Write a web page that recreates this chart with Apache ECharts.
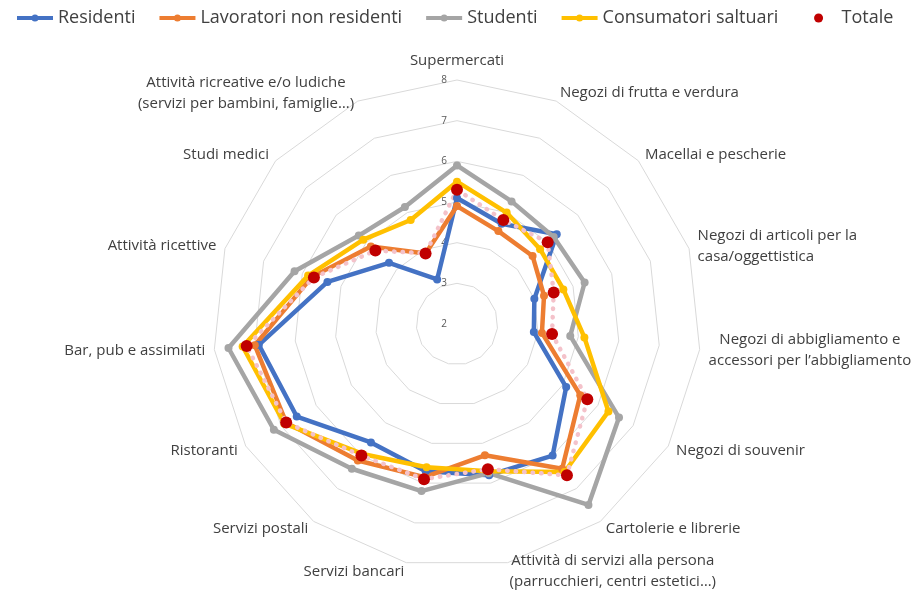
<!DOCTYPE html>
<html>
<head>
<meta charset="utf-8">
<script src="https://cdn.jsdelivr.net/npm/echarts@6/dist/echarts.min.js"></script>
<style>
  html, body { margin: 0; padding: 0; background: #fff; }
  #chart { width: 924px; height: 594px; }
</style>
</head>
<body>
<div id="chart"></div>
<script>
// categorie in senso orario partendo dall'alto
const categories = [
  'Supermercati',
  'Negozi di frutta e verdura',
  'Macellai e pescherie',
  'Negozi di articoli per la\ncasa/oggettistica',
  'Negozi di abbigliamento e\naccessori per l\u2019abbigliamento',
  'Negozi di souvenir',
  'Cartolerie e librerie',
  'Attività di servizi alla persona\n(parrucchieri, centri estetici…)',
  'Servizi bancari',
  'Servizi postali',
  'Ristoranti',
  'Bar, pub e assimilati',
  'Attività ricettive',
  'Studi medici',
  'Attività ricreative e/o ludiche\n(servizi per bambini, famiglie…)'
]
const seriesNames = ['Residenti', 'Lavoratori non residenti', 'Studenti', 'Consumatori saltuari', 'Totale']
const residenti = [5.1, 4.7, 5.3, 4.0, 3.9, 5.1, 6.0, 5.8, 5.7, 5.6, 6.55, 6.9, 5.35, 4.25, 3.2]
const lavoratori = [4.9, 4.5, 4.5, 4.25, 4.1, 5.5, 6.4, 5.3, 5.85, 6.15, 6.85, 7.0, 5.75, 4.85, 3.9]
const studenti = [5.9, 5.3, 5.2, 5.3, 4.8, 6.6, 7.5, 5.75, 6.2, 6.4, 7.2, 7.65, 6.2, 5.25, 5.15]
const consumatori = [5.5, 5.0, 4.75, 4.75, 5.15, 6.3, 6.5, 5.7, 5.6, 5.95, 6.9, 7.3, 5.85, 5.1, 4.8]
const totale = [5.3, 4.8, 5.0, 4.5, 4.35, 5.7, 6.6, 5.65, 5.9, 6.0, 6.85, 7.2, 5.7, 4.7, 3.9]
const axisMin = 2
const axisMax = 8

const Colors = ['#4472C4', '#ED7D31', '#A5A5A5', '#FFC000', '#C00000']
const FONT = '"Open Sans", "Noto Sans", sans-serif'

// echarts disegna il radar in senso antiorario: inverto l'ordine dopo il primo
const cw = arr => [arr[0]].concat(arr.slice(1).reverse())

// icona legenda: linea + punto
const lineIcon = 'path://M0,2.5h36v4h-36z M14.5,4.5a3.5,3.5 0 1,1 7,0a3.5,3.5 0 1,1 -7,0z'
const dotIcon = 'path://M0,0M36,9M13,4.5a5,5 0 1,1 10,0a5,5 0 1,1 -10,0z'

const allValues = [residenti, lavoratori, studenti, consumatori, totale]

const dataItems = allValues.map((vals, i) => {
  const isTot = i === 4
  return {
    name: seriesNames[i],
    value: cw(vals),
    symbol: 'circle',
    symbolSize: isTot ? 12 : 8,
    lineStyle: isTot
      ? { color: '#F4C2CA', width: 4.5, type: [0.5, 8], cap: 'round' }
      : { color: Colors[i], width: 4.5 },
    itemStyle: { color: Colors[i] }
  }
})

const option = {
  animation: false,
  color: Colors,
  textStyle: { fontFamily: FONT },
  legend: {
    top: 4,
    left: 12,
    itemWidth: 36,
    itemHeight: 9,
    itemGap: 24,
    textStyle: { fontSize: 18, color: '#404040', fontFamily: FONT },
    data: seriesNames.map((n, i) => ({
      name: n,
      icon: i === 4 ? dotIcon : lineIcon,
      itemStyle: { color: Colors[i] }
    }))
  },
  radar: {
    center: [457, 324],
    radius: 244,
    shape: 'polygon',
    splitNumber: axisMax - axisMin,
    nameGap: 9,
    axisName: {
      color: '#404040',
      fontSize: 15,
      fontFamily: FONT,
      lineHeight: 21,
      formatter: name => name.indexOf('casa/') >= 0
        ? name
        : name.split('\n').map(l => '{c|' + l + '}').join('\n'),
      rich: {
        c: { align: 'center', fontSize: 15, color: '#404040', fontFamily: FONT, lineHeight: 21 }
      }
    },
    indicator: cw(categories).map((c, i) => ({
      name: c,
      min: axisMin,
      max: axisMax,
      axisLabel: { show: i === 0 }
    })),
    axisLine: { show: false },
    splitLine: { lineStyle: { color: '#D9D9D9', width: 1 } },
    splitArea: { show: false },
    axisTick: { show: false },
    axisLabel: {
      show: false,
      fontSize: 10,
      color: '#595959',
      fontFamily: FONT,
      margin: 10
    }
  },
  series: [{
    type: 'radar',
    data: dataItems
  }]
}

const myChart = echarts.init(document.getElementById('chart'), null, { renderer: 'canvas' })
myChart.setOption(option)
</script>
</body>
</html>
